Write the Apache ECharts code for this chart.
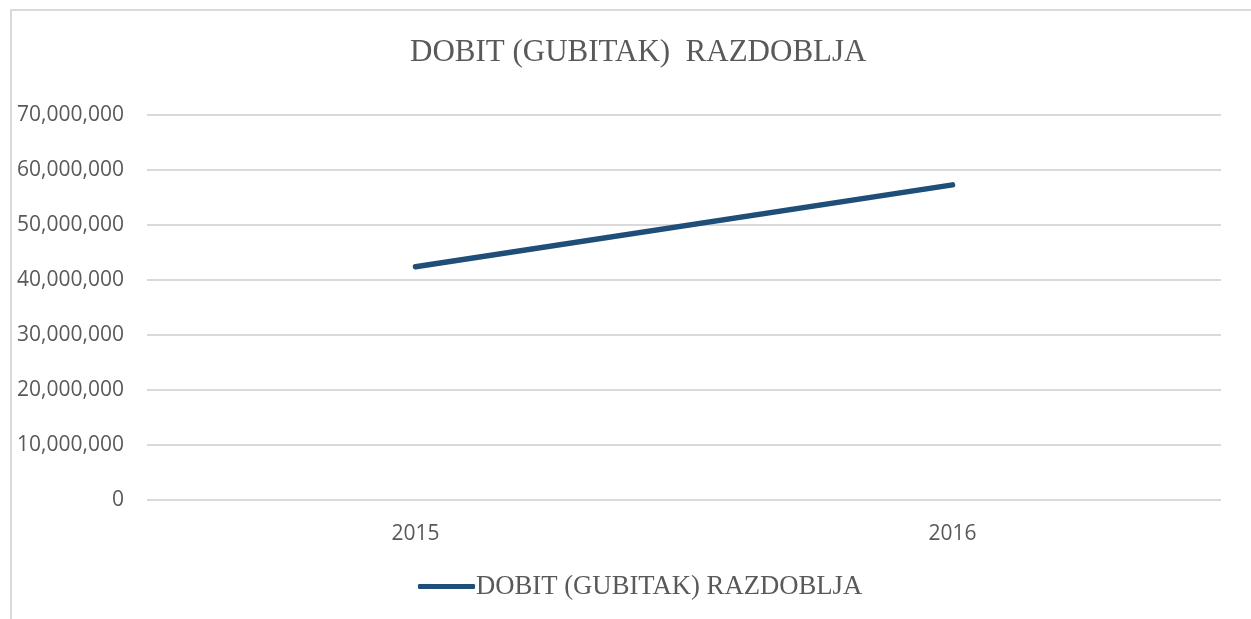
<!DOCTYPE html>
<html>
<head>
<meta charset="utf-8">
<script src="https://cdn.jsdelivr.net/npm/echarts@6/dist/echarts.min.js"></script>
<style>
  html, body { margin: 0; padding: 0; background: #fff; }
  #chart { width: 1251px; height: 619px; }
</style>
</head>
<body>
<div id="chart"></div>
<script>
// podaci
const years = ["2015", "2016"];
const dobit = [42400000, 57300000];
const seriesName = "DOBIT (GUBITAK) RAZDOBLJA";
const titleText = "DOBIT (GUBITAK)  RAZDOBLJA";

const myChart = echarts.init(document.getElementById("chart"));

const option = {
  animation: false,
  backgroundColor: "#fff",
  title: {
    text: titleText,
    left: 405,
    top: 32,
    textStyle: {
      fontFamily: "Liberation Serif",
      fontWeight: "normal",
      fontSize: 31,
      color: "#595959",
    },
  },
  legend: {
    bottom: 14,
    left: 413,
    itemWidth: 57,
    itemHeight: 5,
    itemGap: 10,
    icon: "roundRect",
    data: [seriesName],
    textStyle: {
      fontFamily: "Liberation Serif",
      fontSize: 26.7,
      color: "#595959",
      padding: [0, 0, 0, -4],
    },
  },
  grid: {
    left: 147,
    right: 30,
    top: 115,
    bottom: 119,
  },
  xAxis: {
    type: "category",
    data: years,
    boundaryGap: true,
    axisLine: { show: false },
    axisTick: { show: false },
    axisLabel: {
      margin: 24,
      fontFamily: "Open Sans",
      fontSize: 21,
      color: "#595959",
    },
  },
  yAxis: {
    type: "value",
    min: 0,
    max: 70000000,
    interval: 10000000,
    axisLine: { show: false },
    axisTick: { show: false },
    splitLine: { lineStyle: { color: "#d9d9d9", width: 2 } },
    axisLabel: {
      margin: 23,
      fontFamily: "Open Sans",
      fontSize: 21,
      color: "#595959",
      formatter: function (v) {
        return v.toLocaleString("en-US");
      },
    },
  },
  // okvir slike
  graphic: [
    {
      type: "polyline",
      shape: { points: [[11, 619], [11, 10], [1251, 10]] },
      style: { stroke: "#d9d9d9", lineWidth: 2, fill: null },
      silent: true,
    },
  ],
  series: [
    {
      name: seriesName,
      type: "line",
      data: dobit,
      symbol: "none",
      lineStyle: { color: "#1f4e79", width: 5.5, cap: "round" },
      itemStyle: { color: "#1f4e79" },
    },
  ],
};

myChart.setOption(option);
</script>
</body>
</html>
